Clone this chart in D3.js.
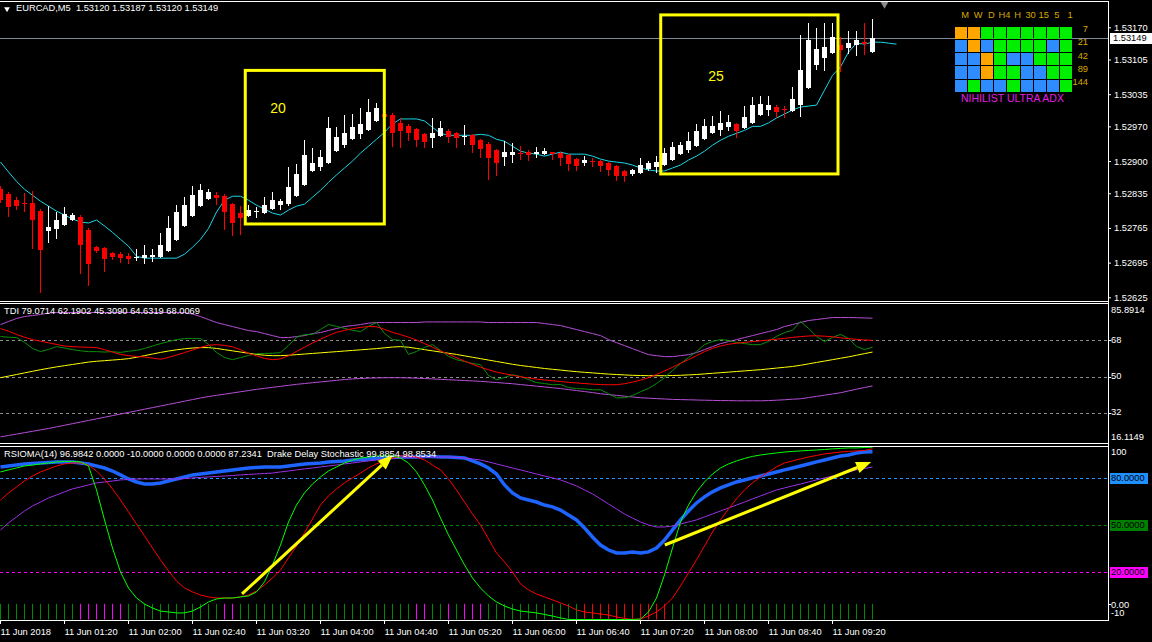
<!DOCTYPE html>
<html>
<head>
<meta charset="utf-8">
<script src="https://cdn.jsdelivr.net/npm/d3@7"></script>
<style>
  body { margin: 0; background: #000; overflow: hidden; }
  svg { display: block; background: #000; }
  text { font-family: "Liberation Sans", Arial, sans-serif; font-size: 9.3px; fill: #fff; white-space: pre; }
</style>
</head>
<body>
<svg id="chart" width="1152" height="642"></svg>
<script>
// EURCAD M5, bar 0 = 11 Jun 2018 00:40, one bar per 5 minutes
const opens = [
1.52843,1.52833,1.52821,1.52815,1.52815,1.52799,1.52758,1.52762,1.52771,1.52781,
1.52787,1.52760,1.52726,1.52724,1.52714,1.52712,1.52708,1.52704,1.52704,1.52706,
1.52706,1.52718,1.52740,1.52769,1.52789,1.52809,1.52823,1.52831,1.52829,1.52813,
1.52795,1.52789,1.52797,1.52795,1.52803,1.52811,1.52813,1.52829,1.52851,1.52880,
1.52888,1.52896,1.52920,1.52932,1.52944,1.52954,1.52962,1.52981,1.52995,1.52993,
1.52977,1.52970,1.52964,1.52954,1.52946,1.52950,1.52960,1.52956,1.52948,1.52952,
1.52942,1.52934,1.52922,1.52908,1.52912,1.52916,1.52918,1.52914,1.52914,1.52918,
1.52916,1.52912,1.52904,1.52896,1.52900,1.52900,1.52896,1.52890,1.52880,1.52874,
1.52876,1.52884,1.52888,1.52892,1.52902,1.52914,1.52922,1.52930,1.52944,1.52956,
1.52962,1.52968,1.52975,1.52966,1.52977,1.52993,1.53003,1.53009,1.53005,1.53001,
1.53013,1.53047,1.53094,1.53108,1.53118,1.53134,1.53128,1.53134,1.53140,1.53120];
const highs = [
1.52849,1.52837,1.52827,1.52835,1.52839,1.52803,1.52809,1.52797,1.52807,1.52795,
1.52791,1.52764,1.52728,1.52726,1.52716,1.52716,1.52714,1.52722,1.52730,1.52722,
1.52754,1.52789,1.52811,1.52827,1.52849,1.52853,1.52843,1.52837,1.52833,1.52815,
1.52809,1.52811,1.52807,1.52827,1.52837,1.52823,1.52888,1.52894,1.52942,1.52926,
1.52922,1.52989,1.52968,1.52993,1.52995,1.53007,1.53025,1.53017,1.52999,1.52997,
1.52987,1.52975,1.52966,1.52956,1.52987,1.52981,1.52964,1.52958,1.52973,1.52954,
1.52944,1.52938,1.52924,1.52940,1.52936,1.52930,1.52922,1.52928,1.52926,1.52918,
1.52918,1.52914,1.52906,1.52910,1.52906,1.52902,1.52898,1.52892,1.52882,1.52884,
1.52906,1.52900,1.52910,1.52926,1.52938,1.52938,1.52958,1.52975,1.52985,1.52991,
1.53001,1.52993,1.52977,1.53011,1.53029,1.53031,1.53031,1.53013,1.53011,1.53049,
1.53154,1.53179,1.53168,1.53179,1.53179,1.53150,1.53162,1.53162,1.53179,1.53187];
const lows = [
1.52817,1.52789,1.52803,1.52799,1.52724,1.52635,1.52736,1.52744,1.52771,1.52781,
1.52674,1.52649,1.52716,1.52678,1.52702,1.52696,1.52694,1.52700,1.52694,1.52698,
1.52706,1.52718,1.52740,1.52769,1.52789,1.52809,1.52823,1.52813,1.52762,1.52750,
1.52752,1.52789,1.52787,1.52795,1.52803,1.52803,1.52811,1.52829,1.52851,1.52880,
1.52882,1.52896,1.52920,1.52928,1.52944,1.52946,1.52962,1.52981,1.52985,1.52930,
1.52928,1.52942,1.52930,1.52928,1.52928,1.52950,1.52938,1.52928,1.52934,1.52918,
1.52908,1.52863,1.52871,1.52892,1.52898,1.52904,1.52902,1.52908,1.52914,1.52904,
1.52892,1.52882,1.52882,1.52892,1.52890,1.52880,1.52872,1.52861,1.52859,1.52872,
1.52876,1.52882,1.52878,1.52892,1.52902,1.52914,1.52918,1.52930,1.52944,1.52956,
1.52952,1.52962,1.52948,1.52966,1.52977,1.52993,1.52993,1.52989,1.52989,1.53001,
1.52991,1.53047,1.53086,1.53084,1.53118,1.53082,1.53118,1.53114,1.53116,1.53120];
const closes = [
1.52821,1.52807,1.52809,1.52813,1.52781,1.52720,1.52766,1.52781,1.52793,1.52791,
1.52730,1.52692,1.52718,1.52702,1.52706,1.52704,1.52702,1.52706,1.52710,1.52710,
1.52730,1.52764,1.52797,1.52811,1.52831,1.52841,1.52837,1.52825,1.52797,1.52775,
1.52785,1.52801,1.52799,1.52811,1.52821,1.52819,1.52847,1.52874,1.52912,1.52896,
1.52908,1.52966,1.52948,1.52956,1.52968,1.52975,1.52999,1.53007,1.52989,1.52956,
1.52960,1.52956,1.52942,1.52938,1.52956,1.52966,1.52948,1.52946,1.52950,1.52932,
1.52924,1.52906,1.52896,1.52918,1.52918,1.52914,1.52912,1.52918,1.52920,1.52914,
1.52906,1.52894,1.52890,1.52902,1.52898,1.52890,1.52882,1.52869,1.52869,1.52882,
1.52892,1.52896,1.52898,1.52916,1.52928,1.52932,1.52940,1.52960,1.52970,1.52970,
1.52977,1.52979,1.52960,1.52989,1.53013,1.53015,1.53013,1.52999,1.53003,1.53025,
1.53084,1.53144,1.53126,1.53130,1.53150,1.53124,1.53138,1.53144,1.53136,1.53149];
// moving average on the price chart, shifted 3 bars forward
const maLine = [
1.52898,1.52878,1.52859,1.52843,1.52831,1.52819,1.52809,1.52799,1.52791,1.52783,
1.52777,1.52775,1.52781,1.52769,1.52756,1.52742,1.52728,1.52708,1.52704,1.52704,
1.52704,1.52704,1.52704,1.52712,1.52726,1.52742,1.52764,1.52797,1.52821,1.52829,
1.52829,1.52821,1.52811,1.52803,1.52795,1.52791,1.52801,1.52809,1.52813,1.52827,
1.52841,1.52857,1.52872,1.52886,1.52900,1.52916,1.52930,1.52944,1.52958,1.52975,
1.52985,1.52985,1.52985,1.52981,1.52968,1.52956,1.52952,1.52952,1.52952,1.52952,
1.52954,1.52952,1.52944,1.52940,1.52930,1.52920,1.52916,1.52914,1.52910,1.52914,
1.52918,1.52914,1.52914,1.52914,1.52910,1.52904,1.52900,1.52898,1.52896,1.52892,
1.52886,1.52882,1.52880,1.52880,1.52886,1.52892,1.52902,1.52910,1.52920,1.52932,
1.52942,1.52950,1.52956,1.52962,1.52970,1.52970,1.52977,1.52987,1.52995,1.53003,
1.53009,1.53011,1.53013,1.53043,1.53073,1.53090,1.53120,1.53138,1.53136,1.53140,
1.53140,1.53138,1.53136];

// TDI
const tdiUpper = [
75.9,77.4,78.9,79.9,80.4,80.9,81.6,81.9,81.9,81.9,
81.9,81.9,81.9,81.9,81.9,81.9,81.9,81.9,81.9,81.9,
81.9,81.9,81.9,81.9,81.1,79.9,78.4,76.9,75.9,74.9,
73.9,72.9,72.4,71.4,70.4,69.4,69.4,69.9,70.4,71.4,
71.9,72.9,73.9,74.9,75.4,75.9,76.6,76.9,76.9,76.9,
76.9,76.9,76.9,77.2,77.2,77.2,77.2,77.2,77.2,77.2,
77.2,76.9,76.9,76.9,76.9,76.9,76.9,76.9,76.4,75.9,
75.4,74.4,73.4,72.4,71.4,70.4,68.4,66.9,65.4,63.9,
62.4,60.9,60.4,59.9,59.9,60.4,60.9,61.9,63.4,64.9,
66.4,67.4,68.4,69.4,70.4,71.4,72.4,73.4,74.9,75.9,
76.9,77.9,78.4,78.9,79.4,79.4,79.4,79.3,79.2,79.07];
const tdiBase = [
49.4,50.2,51.0,51.8,52.6,53.4,54.1,54.8,55.4,56.0,56.6,57.2,57.6,
57.9,58.2,58.5,58.9,59.6,60.4,61.2,62.0,62.7,63.3,63.8,64.2,64.4,
64.4,64.0,63.4,62.8,62.2,61.6,61.0,60.6,60.4,60.4,60.6,60.9,
61.2,61.5,61.8,62.1,62.4,62.7,63.0,63.3,63.6,63.9,64.3,64.7,64.9,
64.6,64.0,63.4,62.8,62.2,61.6,61.0,60.3,59.6,58.9,58.2,57.5,
56.8,56.1,55.5,55.0,54.5,54.0,53.6,53.2,52.8,52.4,52.1,51.8,51.5,
51.2,51.0,50.8,50.6,50.5,50.4,50.4,50.4,50.5,50.6,50.8,51.0,
51.3,51.6,51.9,52.2,52.5,52.8,53.1,53.4,53.8,54.2,54.6,55.0,
55.6,56.3,57.0,57.7,58.4,59.1,59.8,60.6,61.4,62.19];
const tdiLower = [
19.9,20.6,21.3,22.0,22.7,23.4,24.1,24.9,25.7,26.5,27.3,28.1,28.9,
29.7,30.5,31.3,32.1,32.9,33.7,34.5,35.3,36.1,36.9,37.7,38.5,39.3,
40.0,40.6,41.2,41.8,42.4,43.0,43.6,44.1,44.6,45.1,45.6,46.1,
46.5,46.9,47.3,47.7,48.1,48.5,48.8,49.0,49.2,49.3,49.4,49.4,49.4,
49.3,49.2,49.0,48.8,48.6,48.4,48.2,48.0,47.8,47.6,47.3,47.0,
46.7,46.4,46.0,45.6,45.2,44.8,44.4,44.0,43.5,43.0,42.5,42.0,41.4,
41.0,40.6,40.2,39.8,39.4,39.2,39.0,38.8,38.6,38.5,38.4,38.3,
38.2,38.1,38.0,38.0,37.9,37.9,37.9,37.9,38.0,38.2,38.4,38.7,
38.9,39.5,40.1,40.7,41.3,41.9,42.8,43.7,44.5,45.31];
const tdiRsi = [
69.9,69.6,69.4,67.0,64.0,62.4,63.5,64.9,64.2,63.4,62.8,62.4,62.4,
62.2,62.4,62.0,62.6,63.0,64.0,65.2,66.4,67.4,68.4,68.9,68.9,68.9,
66.0,62.0,59.5,58.4,59.4,60.5,61.4,61.5,61.6,61.9,65.5,69.5,
70.9,70.9,73.5,75.9,75.0,74.0,73.0,72.4,75.0,76.9,71.5,68.4,68.0,
61.0,62.5,64.5,65.9,63.0,60.0,58.4,57.5,56.5,55.9,50.5,48.4,
49.5,50.9,50.0,48.5,47.0,46.5,45.9,46.0,44.5,44.0,43.8,43.4,43.4,
41.5,39.4,39.4,40.5,42.4,44.0,46.5,49.4,53.0,56.5,59.4,62.5,
65.9,67.5,68.4,68.0,67.0,66.4,65.9,65.9,67.5,70.0,71.9,73.0,
77.4,74.0,70.0,67.4,69.5,71.0,69.0,65.0,63.4,64.63];
const tdiSignal = [
73.9,72.6,71.0,69.6,68.4,67.6,66.8,66.0,65.2,64.9,64.7,64.6,64.4,
63.4,62.2,61.0,60.4,60.0,59.7,59.2,58.6,59.5,60.7,61.9,63.2,64.5,
65.6,65.9,65.5,64.8,63.4,61.5,60.3,59.0,58.4,58.8,60.3,62.5,
64.6,66.7,68.6,70.4,72.0,73.0,73.8,74.5,74.9,74.8,73.5,72.0,70.9,
69.6,68.2,66.4,64.6,62.8,61.1,59.4,57.7,56.1,54.6,53.4,52.2,
51.4,50.6,49.9,49.3,48.7,48.3,47.9,47.5,47.1,46.8,46.5,46.2,46.0,
45.9,45.9,46.4,47.2,48.2,49.4,51.0,52.8,54.6,56.6,58.4,60.4,
62.4,64.0,65.2,66.1,66.6,67.0,67.4,67.8,68.2,68.6,69.0,69.5,
69.9,70.2,70.3,70.1,69.8,69.3,68.9,68.5,68.2,68.0069];

// RSIOMA(14) and Drake Delay Stochastic
const rsioma = [
87.3,87.9,88.5,89.2,89.5,89.8,90.1,90.5,90.5,90.5,
89.8,89.2,87.9,86.6,84.7,82.2,79.6,77.7,76.4,76.4,
77.1,78.3,79.6,80.9,82.2,82.8,83.4,84.1,84.7,85.4,
86.0,86.6,87.0,87.3,87.3,87.3,87.9,88.5,89.2,89.5,
89.8,90.5,90.8,91.1,91.7,92.1,92.4,92.7,93.0,93.3,
93.6,93.6,93.6,94.0,94.0,93.6,93.6,93.3,93.0,91.1,
89.2,86.6,82.8,75.8,70.7,67.5,66.2,64.9,63.0,61.8,
59.8,56.7,53.5,48.4,42.6,37.5,34.3,32.4,32.4,33.1,
32.4,33.1,35.6,40.7,47.1,53.5,59.2,64.3,68.2,71.4,
73.9,75.8,77.7,79.0,80.3,81.5,82.8,84.1,85.4,86.6,
87.9,89.2,90.5,91.7,93.0,94.3,94.9,96.2,96.8,96.9842];
const rsiomaMa = [
47.1,51.6,55.4,59.2,62.4,64.9,67.5,69.4,71.4,73.3,
74.5,75.8,77.1,77.7,78.3,79.0,79.3,79.6,79.6,79.6,
79.6,79.6,79.6,79.9,80.3,80.6,80.9,81.2,81.5,81.8,
82.2,82.5,82.8,83.1,83.4,84.1,84.7,85.4,86.0,86.6,
87.3,87.9,88.5,89.2,89.8,90.5,91.1,91.7,92.4,92.7,
93.0,93.3,93.6,93.6,93.6,93.6,93.6,93.3,93.0,92.4,
91.7,90.5,89.2,87.9,86.6,85.4,84.1,82.8,81.5,80.3,
79.0,77.1,75.2,72.6,70.1,66.9,63.7,60.5,57.3,54.7,
52.2,50.3,49.0,49.0,49.6,50.9,52.2,53.5,55.4,57.3,
59.2,61.1,63.0,64.9,66.9,68.8,70.7,72.6,73.9,75.2,
76.4,77.7,79.0,80.3,81.5,82.8,84.1,85.4,86.3,87.2341];
const stochMain = [
84.1,85.4,86.6,87.9,88.5,89.2,89.8,90.5,90.8,90.8,
90.5,87.9,72.6,53.5,35.6,20.3,10.1,3.7,-0.1,-2.7,
-4.6,-5.2,-5.8,-5.8,-4.6,-2.0,1.2,3.1,3.7,3.7,
4.4,5.0,7.6,14.0,24.8,37.5,52.2,63.0,70.7,76.4,
80.9,84.7,87.3,89.8,91.7,93.0,93.6,94.3,94.3,94.3,
93.0,89.8,84.1,75.8,66.2,54.7,43.9,34.3,24.8,16.5,
10.1,5.0,1.2,-1.4,-3.3,-4.6,-5.2,-5.8,-6.8,-7.8,
-9.0,-10,-10,-10,-10,-10,-10,-10,-10,-10,
-9.7,-5.2,3.7,18.4,35.6,52.2,63.0,71.3,77.7,82.8,
86.6,89.2,91.1,92.7,94.0,94.9,95.6,96.2,96.8,97.2,
97.5,97.8,98.1,98.4,98.8,99.1,99.4,99.4,99.7,99.8854];
const stochSignal = [
66.2,70.7,74.5,78.3,81.5,84.1,86.0,87.9,89.2,89.8,
89.8,88.5,84.7,79.6,73.2,66.2,58.6,50.9,43.3,35.6,
28.0,21.0,14.6,10.1,7.6,5.6,4.4,3.7,3.7,3.7,
4.4,5.6,8.2,12.0,16.5,21.6,29.3,36.9,45.2,54.1,
63.0,68.8,73.2,77.1,80.3,83.4,86.6,89.2,91.1,93.0,
94.3,94.3,93.6,91.7,88.5,85.4,79.6,72.6,64.9,57.3,
50.3,41.4,32.4,26.7,20.3,12.7,8.9,6.3,4.4,2.5,
0.6,-1.4,-3.9,-5.2,-5.8,-6.5,-7.1,-8.4,-9.3,-10,
-9.7,-7.8,-5.2,-1.4,3.7,11.4,19.7,28.0,36.9,45.8,
53.5,60.5,66.9,72.6,77.1,80.9,84.1,87.3,89.8,91.1,
92.4,93.6,94.6,95.6,96.2,96.8,97.2,97.5,97.8,98.8534];
// histogram bars (0 to -10): magenta and red bars, all others green
const magentaBars = [10,11,12,13,14,15,28,29,52,53,56,58,59,60];
const redBars = [73,74,75,76,77,78,79,80,81,82,83];

// axes
const priceTicks = [1.53170,1.53105,1.53035,1.52970,1.52900,1.52835,1.52765,1.52695,1.52625];
const tdiTicks = [85.8914,68,50,32,16.1149];
const tdiLevels = [68,50,32];
const rsiLevels = [80,50,20];
const rsiLevelColors = ["#1e90ff","#008000","#ff00ff"];
const timeTickBars = [0,8,16,24,32,40,48,56,64,72,80,88,96,104];
const timeLabels = ["11 Jun 2018","11 Jun 01:20","11 Jun 02:00","11 Jun 02:40","11 Jun 03:20","11 Jun 04:00",
  "11 Jun 04:40","11 Jun 05:20","11 Jun 06:00","11 Jun 06:40","11 Jun 07:20","11 Jun 08:00","11 Jun 08:40","11 Jun 09:20"];

// annotations
const boxes = [
  {label:"20", i0:30.66, i1:48.04, top:1.53083, bottom:1.52773, ti:34.75, tp:1.53005},
  {label:"25", i0:82.59, i1:104.75, top:1.53195, bottom:1.52874, ti:89.5, tp:1.53069}];
const arrows = [
  {i0:30.25, v0:6.3, i1:49.1, v1:94.9},
  {i0:83.1, v0:37.5, i1:108.9, v1:90.5}];

// Nihilist ultra ADX table
const gridCols = ["M","W","D","H4","H","30","15","5","1"];
const gridPeriods = ["7","21","42","89","144"];
const gridStates = ["OOGGGGGGG","BOBGGGGBG","BBOGBBGGG","BBOGGBBGG","BGBBGBBBG"];
const gridColors = {O:"#ffa500", B:"#2e8cff", G:"#00ee00"};

const svg = d3.select("#chart");
const right = 1108;
const x = d3.scaleLinear().domain([0, 109]).range([0, 872]);
const yPrice = d3.scaleLinear().domain([1.52625, 1.53170]).range([297.3, 27.3]);
const yTdi = d3.scaleLinear().domain([16.1149, 85.8914]).range([444.5, 304.5]);
const yRsi = d3.scaleLinear().domain([-10, 100]).range([619.5, 447]);

const defs = svg.append("defs");
function clip(id, y0, y1) {
  defs.append("clipPath").attr("id", id).append("rect")
    .attr("x", 0).attr("y", y0).attr("width", right).attr("height", y1 - y0);
}
clip("clipMain", 2, 301);
clip("clipTdi", 304, 443);
clip("clipRsi", 447, 620);

////////////////////// main price window //////////////////////
const main = svg.append("g").attr("clip-path", "url(#clipMain)");
const lastClose = closes[closes.length - 1];
main.append("line")
  .attr("x1", 0).attr("x2", right)
  .attr("y1", Math.round(yPrice(lastClose)) + 0.5).attr("y2", Math.round(yPrice(lastClose)) + 0.5)
  .attr("stroke", "#7f8c9a").attr("stroke-width", 1);

main.append("path").datum(maLine)
  .attr("d", d3.line().x((d, i) => x(i) + 0.5).y(d => yPrice(d)))
  .attr("fill", "none").attr("stroke", "#1ad6e6").attr("stroke-width", 1);

const candle = main.selectAll(".candle").data(d3.range(opens.length)).join("g").attr("class", "candle");
candle.append("line")
  .attr("x1", i => x(i) + 0.5).attr("x2", i => x(i) + 0.5)
  .attr("y1", i => Math.round(yPrice(highs[i])))
  .attr("y2", i => Math.round(yPrice(lows[i])) + 1)
  .attr("stroke", i => closes[i] >= opens[i] ? "#fff" : "#ff0000")
  .attr("shape-rendering", "crispEdges");
candle.append("rect")
  .attr("x", i => x(i) - 2).attr("width", 5)
  .attr("y", i => Math.round(yPrice(Math.max(opens[i], closes[i]))))
  .attr("height", i => Math.max(1, Math.round(yPrice(Math.min(opens[i], closes[i]))) - Math.round(yPrice(Math.max(opens[i], closes[i])))))
  .attr("fill", i => closes[i] >= opens[i] ? "#fff" : "#ff0000")
  .attr("shape-rendering", "crispEdges");

// yellow boxes and numbers
boxes.forEach(b => {
  main.append("rect")
    .attr("x", x(b.i0)).attr("y", yPrice(b.top))
    .attr("width", x(b.i1) - x(b.i0)).attr("height", yPrice(b.bottom) - yPrice(b.top))
    .attr("fill", "none").attr("stroke", "#ffff00").attr("stroke-width", 3);
  main.append("text").attr("x", x(b.ti)).attr("y", yPrice(b.tp))
    .attr("text-anchor", "middle").attr("dominant-baseline", "middle")
    .style("font-size", "14px").style("fill", "#ffff00").text(b.label);
});

// title
svg.append("path").attr("d", d3.symbol(d3.symbolTriangle, 14)())
  .attr("transform", "translate(7,9) rotate(180)").attr("fill", "#fff");
svg.append("text").attr("x", 16).attr("y", 9).attr("dominant-baseline", "middle")
  .text("EURCAD,M5  1.53120 1.53187 1.53120 1.53149");
// chart shift marker
svg.append("path").attr("d", d3.symbol(d3.symbolTriangle, 30)())
  .attr("transform", "translate(884.5,4) rotate(180)").attr("fill", "#8a8a8a");

// ADX table
const gx = d3.scaleBand().domain(gridCols).range([955, 1072]).paddingInner(0.08);
const gy = d3.scaleBand().domain(gridPeriods).range([26.5, 92]).paddingInner(0.08);
const grid = svg.append("g");
gridStates.forEach((row, r) => {
  row.split("").forEach((s, c) => {
    grid.append("rect").attr("x", gx(gridCols[c])).attr("y", gy(gridPeriods[r]))
      .attr("width", gx.bandwidth()).attr("height", gy.bandwidth())
      .attr("fill", gridColors[s]).attr("shape-rendering", "crispEdges");
  });
});
grid.selectAll(".colLbl").data(gridCols).join("text")
  .attr("x", d => gx(d) + gx.bandwidth() / 2 + 4).attr("y", 16)
  .attr("text-anchor", "middle").attr("dominant-baseline", "middle")
  .style("fill", "#d9a800").text(d => d);
grid.selectAll(".rowLbl").data(gridPeriods).join("text")
  .attr("x", 1088).attr("y", d => gy(d) + gy.bandwidth() / 2 - 3)
  .attr("text-anchor", "end").attr("dominant-baseline", "middle")
  .style("fill", "#d9a800").text(d => d);
grid.append("text").attr("x", 961).attr("y", 99).attr("dominant-baseline", "middle")
  .style("fill", "#e61ee6").style("font-size", "10.5px").text("NIHILIST ULTRA ADX");

// price axis
const pAxis = svg.append("g").attr("transform", `translate(${right},0)`)
  .call(d3.axisRight(yPrice).tickValues(priceTicks).tickSize(3).tickFormat(d3.format(".5f")));
pAxis.select(".domain").remove();
pAxis.selectAll("line").attr("stroke", "#fff");
pAxis.selectAll("text").attr("fill", "#fff").attr("x", 6)
  .style("font-family", '"Liberation Sans", Arial, sans-serif').style("font-size", "9.3px");
// current price label
const cpY = Math.round(yPrice(lastClose));
svg.append("rect").attr("x", 1110).attr("y", cpY - 5).attr("width", 42).attr("height", 11).attr("fill", "#fff");
svg.append("text").attr("x", 1113).attr("y", cpY + 0.5).attr("dominant-baseline", "middle")
  .style("fill", "#000").text(d3.format(".5f")(lastClose));

////////////////////// TDI window //////////////////////
const tdi = svg.append("g").attr("clip-path", "url(#clipTdi)");
tdiLevels.forEach(v => {
  tdi.append("line").attr("x1", 0).attr("x2", right)
    .attr("y1", Math.round(yTdi(v)) + 0.5).attr("y2", Math.round(yTdi(v)) + 0.5)
    .attr("stroke", "#8c8c8c").attr("stroke-dasharray", "3,3");
});
const tdiLine = d3.line().x((d, i) => x(i) + 0.5).y(d => yTdi(d));
[[tdiUpper, "#b54fd6"], [tdiLower, "#b54fd6"], [tdiBase, "#ffff00"], [tdiRsi, "#0a8f0a"], [tdiSignal, "#ff0000"]]
  .forEach(([s, c]) => {
    tdi.append("path").datum(s).attr("d", tdiLine)
      .attr("fill", "none").attr("stroke", c).attr("stroke-width", 1);
  });
svg.append("text").attr("x", 4).attr("y", 312).attr("dominant-baseline", "middle")
  .text("TDI 79.0714 62.1902 45.3090 64.6319 68.0069");
tdiTicks.forEach((v, i) => {
  let ty = yTdi(v);
  if (i === 0) ty += 6;
  if (i === tdiTicks.length - 1) ty -= 7;
  svg.append("text").attr("x", 1111).attr("y", ty).attr("dominant-baseline", "middle")
    .text(Number.isInteger(v) ? v : v.toFixed(4));
  if (i > 0 && i < tdiTicks.length - 1) {
    svg.append("line").attr("x1", right).attr("x2", right + 3)
      .attr("y1", Math.round(ty) + 0.5).attr("y2", Math.round(ty) + 0.5).attr("stroke", "#fff");
  }
});

////////////////////// RSIOMA window //////////////////////
const rsi = svg.append("g").attr("clip-path", "url(#clipRsi)");
rsiLevels.forEach((v, i) => {
  rsi.append("line").attr("x1", 0).attr("x2", right)
    .attr("y1", Math.round(yRsi(v)) + 0.5).attr("y2", Math.round(yRsi(v)) + 0.5)
    .attr("stroke", rsiLevelColors[i]).attr("stroke-dasharray", "3,3");
});
rsi.selectAll(".hist").data(d3.range(opens.length)).join("line")
  .attr("x1", i => x(i) + 0.5).attr("x2", i => x(i) + 0.5)
  .attr("y1", yRsi(0)).attr("y2", yRsi(-10))
  .attr("stroke", i => magentaBars.includes(i) ? "#ff00ff" : redBars.includes(i) ? "#ff0000" : "#008a00");
const rsiLine = d3.line().x((d, i) => x(i) + 0.5).y(d => yRsi(d));
rsi.append("path").datum(rsioma).attr("d", rsiLine)
  .attr("fill", "none").attr("stroke", "#1e64ff").attr("stroke-width", 3.5);
rsi.append("path").datum(rsiomaMa).attr("d", rsiLine)
  .attr("fill", "none").attr("stroke", "#9b30e8").attr("stroke-width", 1);
rsi.append("path").datum(stochSignal).attr("d", rsiLine)
  .attr("fill", "none").attr("stroke", "#ff0000").attr("stroke-width", 1);
rsi.append("path").datum(stochMain).attr("d", rsiLine)
  .attr("fill", "none").attr("stroke", "#00ff00").attr("stroke-width", 1);
// arrows
arrows.forEach(a => {
  const x1 = x(a.i0), y1 = yRsi(a.v0), x2 = x(a.i1), y2 = yRsi(a.v1);
  const ang = Math.atan2(y2 - y1, x2 - x1), len = 15, wid = 6;
  const bx = x2 - len * Math.cos(ang), by = y2 - len * Math.sin(ang);
  rsi.append("line").attr("x1", x1).attr("y1", y1).attr("x2", bx).attr("y2", by)
    .attr("stroke", "#ffff00").attr("stroke-width", 3);
  rsi.append("path")
    .attr("d", `M${x2},${y2}L${bx + wid * Math.sin(ang)},${by - wid * Math.cos(ang)}L${bx - wid * Math.sin(ang)},${by + wid * Math.cos(ang)}Z`)
    .attr("fill", "#ffff00");
});
svg.append("text").attr("x", 4).attr("y", 455).attr("dominant-baseline", "middle")
  .text("RSIOMA(14) 96.9842 0.0000 -10.0000 0.0000 0.0000 87.2341  Drake Delay Stochastic 99.8854 98.8534");
// rsi axis labels
svg.append("text").attr("x", 1111).attr("y", yRsi(100) + 6).attr("dominant-baseline", "middle").text("100");
rsiLevels.forEach((v, i) => {
  const ty = Math.round(yRsi(v));
  svg.append("rect").attr("x", 1110).attr("y", ty - 5).attr("width", 38).attr("height", 11).attr("fill", rsiLevelColors[i]);
  svg.append("text").attr("x", 1111).attr("y", ty + 0.5).attr("dominant-baseline", "middle")
    .style("fill", "#000").text(v.toFixed(4));
});
svg.append("text").attr("x", 1111).attr("y", yRsi(0) + 1.5).attr("dominant-baseline", "middle").text("0.00");
svg.append("text").attr("x", 1111).attr("y", yRsi(-10) - 5.5).attr("dominant-baseline", "middle").text("-10");
svg.append("line").attr("x1", right).attr("x2", right + 3)
  .attr("y1", Math.round(yRsi(0)) + 0.5).attr("y2", Math.round(yRsi(0)) + 0.5).attr("stroke", "#fff");

////////////////////// frames and time axis //////////////////////
const frame = svg.append("g").attr("stroke", "#fff").attr("stroke-width", 1).attr("shape-rendering", "crispEdges");
[1.5, 301.5, 303.5, 443.5, 446.5].forEach(yy => {
  frame.append("line").attr("x1", 0).attr("x2", right + 1).attr("y1", yy).attr("y2", yy);
});
frame.append("line").attr("x1", right + 0.5).attr("x2", right + 0.5).attr("y1", 1).attr("y2", 621);

const tAxis = svg.append("g").attr("transform", "translate(0,620)")
  .call(d3.axisBottom(x).tickValues(timeTickBars).tickSize(4).tickFormat((d, i) => timeLabels[i]));
tAxis.select(".domain").attr("stroke", "#fff").attr("d", `M0,0.5H${right + 1}`);
tAxis.selectAll("line").attr("stroke", "#fff");
tAxis.selectAll("text").attr("fill", "#fff").attr("text-anchor", "start").attr("x", 0).attr("y", 8)
  .style("font-family", '"Liberation Sans", Arial, sans-serif').style("font-size", "9.3px");
</script>
</body>
</html>
